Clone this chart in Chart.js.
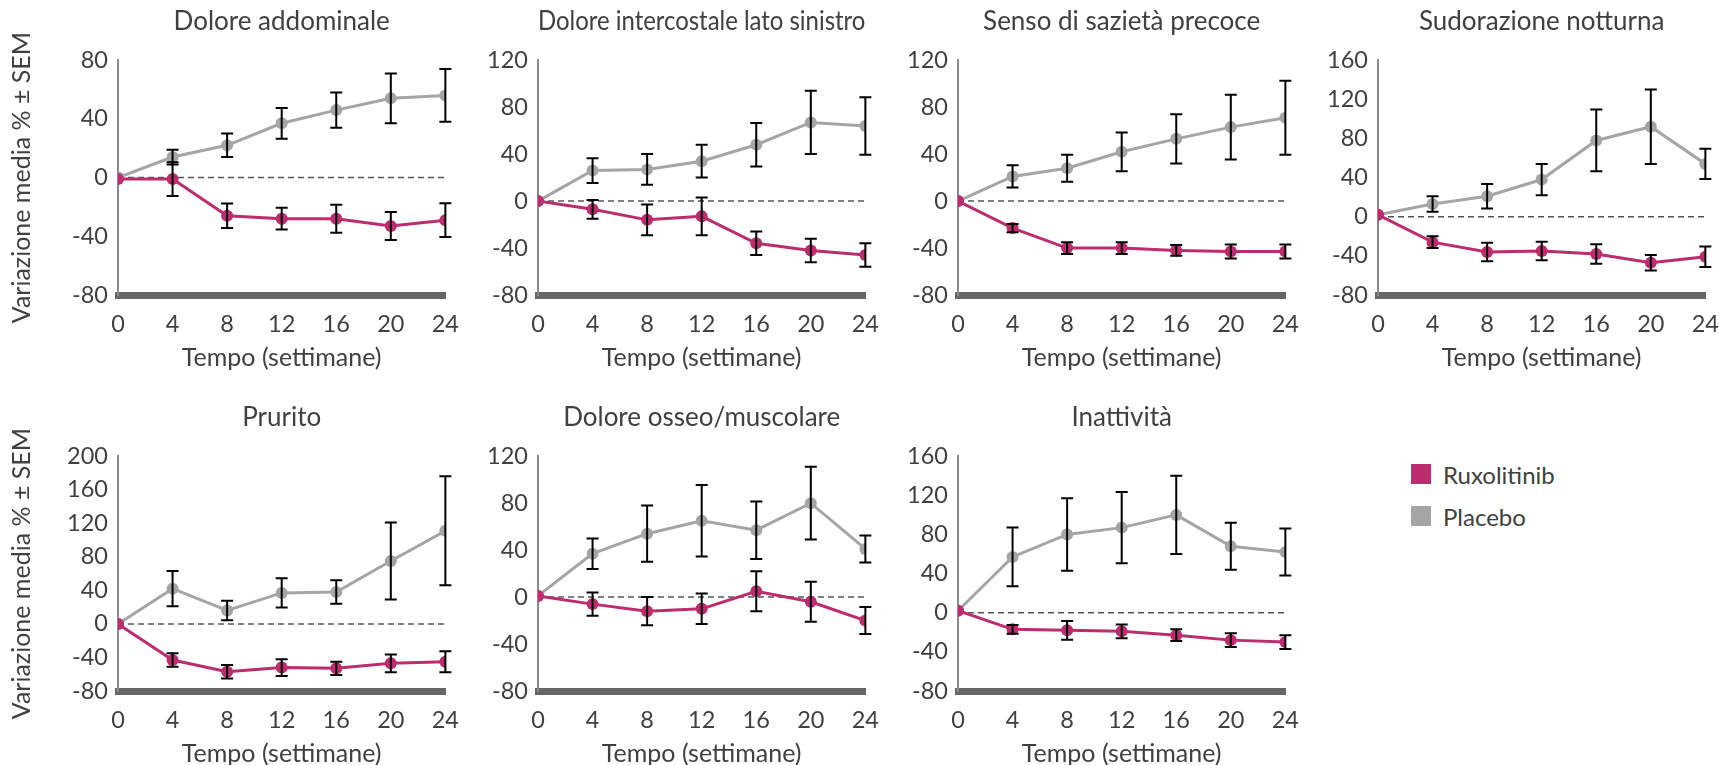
<!DOCTYPE html>
<html>
<head>
<meta charset="utf-8">
<script src="https://cdn.jsdelivr.net/npm/chart.js@4.4.1/dist/chart.umd.min.js"></script>
<style>
  html, body { margin: 0; padding: 0; background: #fff; width: 1719px; height: 765px; overflow: hidden; }
  .panel { position: absolute; }
  .legend { position: absolute; left: 1411px; font-family: Lato, sans-serif; font-size: 24px; color: #404040; }
  .legend div { display: flex; align-items: center; height: 26px; }
  .legend span.box { display: inline-block; width: 20px; height: 20px; margin-right: 12px; }
</style>
</head>
<body>
<canvas class="panel" id="c0" width="474" height="380" style="left:0px;top:0px"></canvas>
<canvas class="panel" id="c1" width="474" height="380" style="left:420px;top:0px"></canvas>
<canvas class="panel" id="c2" width="474" height="380" style="left:840px;top:0px"></canvas>
<canvas class="panel" id="c3" width="474" height="380" style="left:1260px;top:0px"></canvas>
<canvas class="panel" id="c4" width="474" height="380" style="left:0px;top:396px"></canvas>
<canvas class="panel" id="c5" width="474" height="380" style="left:420px;top:396px"></canvas>
<canvas class="panel" id="c6" width="474" height="380" style="left:840px;top:396px"></canvas>

<div class="legend" style="top:461px">
  <div><span class="box" style="background:#bc2c6e"></span>Ruxolitinib</div>
</div>
<div class="legend" style="top:503px">
  <div><span class="box" style="background:#a5a5a5"></span>Placebo</div>
</div>

<script>
// weeks on the x axis
const weeks = [0, 4, 8, 12, 16, 20, 24];

// Dolore addominale
const ruxAddominale = [-1, -1, -26, -28, -28, -33, -29];
const ruxAddominaleSem = [0, 11.5, 8.3, 7.4, 9.5, 9.5, 11.5];
const plaAddominale = [0, 14, 22, 37, 46, 54, 56];
const plaAddominaleSem = [0, 5, 8, 10.5, 12, 17, 18];

// Dolore intercostale lato sinistro
const ruxIntercostale = [0, -7, -16, -13, -36, -42, -46];
const ruxIntercostaleSem = [0, 8, 13, 16, 10, 10, 10];
const plaIntercostale = [0, 26, 27, 34, 48, 67, 64];
const plaIntercostaleSem = [0, 10.5, 13, 14, 18.5, 27, 24.5];

// Senso di sazietà precoce
const ruxSazieta = [0, -23, -40, -40, -42, -43, -43];
const ruxSazietaSem = [0, 3.5, 5, 5, 4.5, 6, 6];
const plaSazieta = [0, 21, 28, 42, 53, 63, 71];
const plaSazietaSem = [0, 9.5, 11.5, 16.5, 21, 27.5, 31.5];

// Sudorazione notturna
const ruxSudorazione = [2, -26, -36, -35, -38, -47, -41];
const ruxSudorazioneSem = [0, 6, 9.5, 9.5, 10, 8, 10.5];
const plaSudorazione = [2, 13, 21, 38, 78, 92, 54];
const plaSudorazioneSem = [0, 8, 12.5, 16, 31.5, 38, 15.5];

// Prurito
const ruxPrurito = [0, -43, -57, -52, -53, -47, -45];
const ruxPruritoSem = [0, 8, 8, 10, 8, 10.5, 12.5];
const plaPrurito = [0, 42, 16, 37, 38, 75, 111];
const plaPruritoSem = [0, 21, 11.5, 17.5, 14, 46, 65];

// Dolore osseo/muscolare
const ruxOsseo = [1, -6, -12, -10, 5, -4, -20];
const ruxOsseoSem = [0, 10, 12, 13, 17, 17, 11.5];
const plaOsseo = [1, 37, 54, 65, 57, 80, 41];
const plaOsseoSem = [0, 13, 24, 30.5, 24.5, 31, 11.5];

// Inattività
const ruxInattivita = [2, -17, -18, -19, -23, -28, -30];
const ruxInattivitaSem = [0, 4.5, 9.5, 7, 6, 7, 7];
const plaInattivita = [2, 57, 80, 87, 100, 68, 62];
const plaInattivitaSem = [0, 30, 37, 36.5, 40, 24, 24];

const panels = [
  { title: 'Dolore addominale', yMax: 80, rux: ruxAddominale, ruxSem: ruxAddominaleSem, pla: plaAddominale, plaSem: plaAddominaleSem, yTitle: true },
  { title: 'Dolore intercostale lato sinistro', yMax: 120, rux: ruxIntercostale, ruxSem: ruxIntercostaleSem, pla: plaIntercostale, plaSem: plaIntercostaleSem },
  { title: 'Senso di sazietà precoce', yMax: 120, rux: ruxSazieta, ruxSem: ruxSazietaSem, pla: plaSazieta, plaSem: plaSazietaSem },
  { title: 'Sudorazione notturna', yMax: 160, rux: ruxSudorazione, ruxSem: ruxSudorazioneSem, pla: plaSudorazione, plaSem: plaSudorazioneSem },
  { title: 'Prurito', yMax: 200, rux: ruxPrurito, ruxSem: ruxPruritoSem, pla: plaPrurito, plaSem: plaPruritoSem, yTitle: true },
  { title: 'Dolore osseo/muscolare', yMax: 120, rux: ruxOsseo, ruxSem: ruxOsseoSem, pla: plaOsseo, plaSem: plaOsseoSem },
  { title: 'Inattività', yMax: 160, rux: ruxInattivita, ruxSem: ruxInattivitaSem, pla: plaInattivita, plaSem: plaInattivitaSem }
];

const ruxColor = '#bc2c6e';
const plaColor = '#a5a5a5';
const textColor = '#404040';

Chart.defaults.font.family = 'Lato, sans-serif';
Chart.defaults.color = textColor;

// dashed line at zero
const zeroLine = {
  id: 'zeroLine',
  beforeDatasetsDraw(chart) {
    const ctx = chart.ctx;
    const a = chart.chartArea;
    const y = chart.scales.y.getPixelForValue(0);
    ctx.save();
    ctx.strokeStyle = '#555555';
    ctx.lineWidth = 1.5;
    ctx.setLineDash([6, 4]);
    ctx.beginPath();
    ctx.moveTo(a.left, y);
    ctx.lineTo(a.right, y);
    ctx.stroke();
    ctx.restore();
  }
};

// SEM error bars
const errorBars = {
  id: 'errorBars',
  afterDatasetsDraw(chart) {
    const ctx = chart.ctx;
    const yScale = chart.scales.y;
    ctx.save();
    ctx.strokeStyle = '#000000';
    ctx.lineWidth = 2;
    chart.data.datasets.forEach((ds, i) => {
      const meta = chart.getDatasetMeta(i);
      ds.sem.forEach((e, j) => {
        if (!e) return;
        const x = meta.data[j].x;
        const v = ds.data[j].y;
        const top = yScale.getPixelForValue(v + e);
        const bottom = yScale.getPixelForValue(v - e);
        ctx.beginPath();
        ctx.moveTo(x, top);
        ctx.lineTo(x, bottom);
        ctx.moveTo(x - 6, top);
        ctx.lineTo(x + 6, top);
        ctx.moveTo(x - 6, bottom);
        ctx.lineTo(x + 6, bottom);
        ctx.stroke();
      });
    });
    ctx.restore();
  }
};

function toPoints(vals) {
  return weeks.map((w, i) => ({ x: w, y: vals[i] }));
}

function makeDataset(label, vals, sem, color) {
  return {
    label: label,
    data: toPoints(vals),
    sem: sem,
    borderColor: color,
    backgroundColor: color,
    borderWidth: 3,
    pointRadius: 6,
    pointBorderWidth: 0,
    pointHoverRadius: 6,
    tension: 0
  };
}

panels.forEach((p, idx) => {
  new Chart(document.getElementById('c' + idx), {
    type: 'line',
    data: {
      datasets: [
        makeDataset('Ruxolitinib', p.rux, p.ruxSem, ruxColor),
        makeDataset('Placebo', p.pla, p.plaSem, plaColor)
      ]
    },
    options: {
      responsive: false,
      animation: false,
      layout: { padding: { top: 0, right: 0, bottom: 0, left: 0 } },
      plugins: {
        legend: { display: false },
        tooltip: { enabled: false },
        title: {
          display: true,
          text: p.title,
          fullSize: false,
          color: textColor,
          font: { size: 26, weight: 'normal' },
          padding: { top: 6, bottom: 23 }
        }
      },
      scales: {
        x: {
          type: 'linear',
          min: 0,
          max: 24,
          ticks: { stepSize: 4, font: { size: 23.5 }, padding: 15, color: textColor },
          grid: { display: false, drawTicks: false },
          border: { color: '#666666', width: 7 },
          title: { display: true, text: 'Tempo (settimane)', color: textColor, font: { size: 25 }, padding: { top: 4, bottom: 7 } },
          afterFit(scale) { scale.height = 85; }
        },
        y: {
          min: -80,
          max: p.yMax,
          ticks: { stepSize: 40, font: { size: 23.5 }, padding: 10, color: textColor },
          grid: { display: false, drawTicks: false },
          border: { color: '#8a8a8a', width: 2 },
          title: { display: !!p.yTitle, text: 'Variazione media % ± SEM', color: textColor, font: { size: 25 }, padding: { top: 7, bottom: 0 } },
          afterFit(scale) { scale.width = 118; }
        }
      }
    },
    plugins: [zeroLine, errorBars]
  });
});
</script>
</body>
</html>
